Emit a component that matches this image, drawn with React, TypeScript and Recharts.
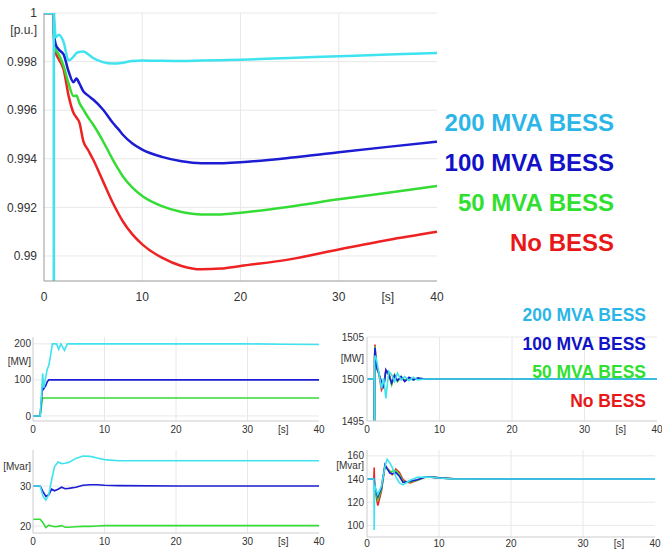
import { LineChart, Line, XAxis, YAxis, CartesianGrid } from "recharts";

const FONT = "'Liberation Sans', Arial, sans-serif";

const COLORS = {
  none: "#ee2222",
  b50: "#36dc36",
  b100: "#1c1cd2",
  b200: "#3fe3ef",
};

const LEGEND_COLORS = ["#2cb6e8", "#1212c8", "#2fe02f", "#e81818"];
const LEGEND_NAMES = ["200 MVA BESS", "100 MVA BESS", "50 MVA BESS", "No BESS"];

// shared x axis ticks (time, s)
const X_TICKS = [0, 10, 20, 30, 35, 40];
const X_LABELS = ["0", "10", "20", "30", "[s]", "40"];
const GRID_X = [10, 20, 30];

// bus voltage [p.u.]
const T_VOLT = [0, 0.995, 1.0, 1.005, 1.2, 1.5, 2, 2.5, 3, 3.3, 3.6, 4, 4.5, 5, 6, 7, 7.5, 8, 9, 10, 12, 14, 16, 18, 20, 25, 30, 35, 40];
const VOLT_200 = [1, 1, 0.975, 0.9998, 0.999, 0.9991, 0.9988, 0.99805, 0.9982, 0.99835, 0.9984, 0.99842, 0.9983, 0.99815, 0.99798, 0.99792, 0.99792, 0.99795, 0.99802, 0.99805, 0.99803, 0.99802, 0.99804, 0.99806, 0.99808, 0.99815, 0.99822, 0.99829, 0.99835];
const VOLT_100 = [1, 1, 1, 0.9992, 0.9987, 0.9985, 0.99829, 0.9976, 0.99715, 0.9973, 0.9971, 0.99678, 0.9966, 0.99644, 0.99603, 0.99548, 0.99525, 0.995, 0.99463, 0.99438, 0.99408, 0.9939, 0.99382, 0.99382, 0.99386, 0.99404, 0.99427, 0.99449, 0.9947];
const VOLT_50 = [1, 1, 1, 0.9991, 0.9985, 0.9983, 0.99781, 0.9971, 0.99658, 0.9966, 0.9963, 0.99603, 0.9957, 0.99541, 0.99473, 0.99397, 0.99362, 0.99329, 0.99281, 0.99247, 0.99205, 0.99181, 0.99171, 0.99171, 0.99178, 0.99203, 0.99233, 0.9926, 0.99288];
const VOLT_NONE = [1, 1, 1, 0.999, 0.99836, 0.9981, 0.99767, 0.9966, 0.99589, 0.9957, 0.9955, 0.99473, 0.99435, 0.99397, 0.99308, 0.99219, 0.9918, 0.99144, 0.99089, 0.99048, 0.98993, 0.98959, 0.98945, 0.98948, 0.98959, 0.98986, 0.99027, 0.99066, 0.991];
const VOLT_TICKS = [0.99, 0.992, 0.994, 0.996, 0.998, 0.9993, 1];
const VOLT_LABELS = ["0.99", "0.992", "0.994", "0.996", "0.998", "[p.u.]", "1"];
const VOLT_GRID = [0.99, 0.992, 0.994, 0.996, 0.998, 1];

// BESS active power [MW]
const T_PBESS = [0, 1.0, 1.2, 1.35, 1.5, 1.8, 2.0, 2.2, 2.4, 2.7, 3.3, 3.6, 3.9, 4.4, 4.8, 10, 20, 30, 35, 40];
const PB_200 = [0, 0, 60, 118, 78, 110, 130, 140, 160, 200, 200, 185, 200, 182, 200, 200, 200, 200, 199, 198];
const PB_100 = [0, 0, 50, 90, 75, 85, 95, 100, 100, 100, 100, 100, 100, 100, 100, 100, 100, 100, 100, 100];
const PB_50 = [0, 0, 30, 50, 50, 50, 50, 50, 50, 50, 50, 50, 50, 50, 50, 50, 50, 50, 50, 50];
const PB_TICKS = [0, 100, 150, 200];
const PB_LABELS = ["0", "100", "[MW]", "200"];
const PB_GRID = [0, 100, 200];

// BESS reactive power [Mvar]
const T_QBESS = [0, 1.0, 1.4, 1.8, 2.2, 2.6, 3.0, 3.5, 4.0, 4.5, 5, 6, 7, 8, 9, 10, 12, 20, 40];
const QB_200 = [30, 30, 27.4, 26.5, 27.8, 31.5, 34.8, 36.0, 35.6, 35.7, 35.9, 36.9, 37.5, 37.4, 37.0, 36.6, 36.3, 36.3, 36.3];
const QB_100 = [30, 30, 28.6, 27.4, 27.8, 29.2, 28.8, 29.2, 29.7, 29.3, 29.4, 29.7, 30.2, 30.3, 30.3, 30.2, 30.1, 30, 30];
const QB_50 = [21.7, 21.7, 20.8, 19.6, 20.2, 20.0, 19.8, 19.9, 20.1, 19.7, 19.7, 19.8, 19.9, 19.9, 20.0, 20.1, 20.1, 20.1, 20.1];
const QB_TICKS = [20, 30, 35];
const QB_LABELS = ["20", "30", "[Mvar]"];
const QB_GRID = [20, 30];

// generator active power [MW]
const T_PGEN = [0, 0.99, 1.0, 1.05, 1.1, 1.3, 1.6, 2.0, 2.3, 2.6, 3.0, 3.4, 3.8, 4.2, 4.7, 5.2, 5.8, 6.4, 7.0, 8, 10, 20, 40];
const PG_200 = [1500, 1500, 1480, 1502, 1502.8, 1502.4, 1500.9, 1498.9, 1500.1, 1497.7, 1500.9, 1500.5, 1499.7, 1500.7, 1499.9, 1500.3, 1499.8, 1500.2, 1499.9, 1500, 1500, 1500, 1500];
const PG_100 = [1500, 1500, 1480, 1502.5, 1503.7, 1501.5, 1500.7, 1499.7, 1498.9, 1501.1, 1500.5, 1499.5, 1500.4, 1499.8, 1500.3, 1499.7, 1500.2, 1499.9, 1500.1, 1500, 1500, 1500, 1500];
const PG_50 = [1500, 1500, 1480, 1502.6, 1503.9, 1501.4, 1500.8, 1499.2, 1499.0, 1500.9, 1500.6, 1499.3, 1500.5, 1499.7, 1500.3, 1499.8, 1500.1, 1499.9, 1500.1, 1500, 1500, 1500, 1500];
const PG_NONE = [1500, 1500, 1480, 1502.8, 1504.1, 1501.3, 1500.8, 1498.7, 1499.3, 1501.0, 1500.8, 1499.4, 1500.5, 1499.8, 1500.2, 1499.8, 1500.1, 1500, 1500, 1500, 1500, 1500, 1500];
const PG_TICKS = [1495, 1500, 1502.5, 1505];
const PG_LABELS = ["1495", "1500", "[MW]", "1505"];
const PG_GRID = [1500, 1505];

// generator reactive power [Mvar]
const T_QGEN = [0, 0.95, 1.0, 1.05, 1.2, 1.5, 2.0, 2.5, 2.8, 3.2, 3.5, 3.8, 4.0, 4.5, 5, 5.5, 6, 7, 8, 9, 10, 12, 20, 40];
const QG_NONE = [140, 140, 150, 135, 128, 117, 129.4, 151, 149, 146.6, 143.7, 146, 148.6, 145.7, 139.4, 137.5, 136.6, 138.9, 141.5, 141.6, 141, 140.2, 140, 140];
const QG_50 = [140, 140, 140, 135, 129.5, 122, 131, 151.5, 149, 146, 146.6, 147, 147.4, 144, 138, 137.5, 137.5, 139, 141.5, 141.6, 141, 140.2, 140, 140];
const QG_100 = [140, 140, 140, 135, 130.9, 125, 132.3, 152.3, 149, 145, 144.6, 145, 145.7, 142.3, 137, 137.5, 138, 139.4, 141.5, 141.6, 141, 140.2, 140, 140];
const QG_200 = [140, 140, 96, 135, 132, 126.6, 133.7, 150.9, 157, 153.7, 150, 145, 142, 136.6, 134.9, 137, 138.9, 141.4, 141.7, 141.5, 140.9, 140, 140, 140];
const QG_TICKS = [100, 120, 140, 151.5, 160];
const QG_LABELS = ["100", "120", "140", "[Mvar]", "160"];
const QG_GRID = [100, 120, 140, 160];

type Row = Record<string, number>;

function buildRows(t: number[], series: Record<string, number[]>): Row[] {
  return t.map((time, i) => {
    const row: Row = { t: time };
    Object.keys(series).forEach((k) => {
      row[k] = series[k][i];
    });
    return row;
  });
}

const labelFor = (ticks: number[], labels: string[]) => (v: number) => {
  const i = ticks.findIndex((x) => Math.abs(x - v) < 1e-9);
  return i >= 0 ? labels[i] : String(v);
};

interface PanelProps {
  data: Row[];
  keys: (keyof typeof COLORS)[];
  left: number;
  top: number;
  width: number;
  height: number;
  marginTop: number;
  marginRight: number;
  yWidth: number;
  xHeight: number;
  yDomain: [number, number];
  yTicks: number[];
  yLabels: string[];
  gridY: number[];
  fontSize: number;
  strokeWidth: number;
  axisColor: string;
  yTickGap: number;
  xTickGap: number;
  curve: "linear" | "monotone";
}

function Panel(p: PanelProps) {
  return (
    <div style={{ position: "absolute", left: p.left, top: p.top }}>
      <LineChart
        width={p.width}
        height={p.height}
        data={p.data}
        margin={{ top: p.marginTop, right: p.marginRight, left: 0, bottom: 0 }}
      >
        <CartesianGrid
          stroke="#e8e8e8"
          strokeWidth={1}
          verticalValues={GRID_X}
          horizontalValues={p.gridY}
        />
        <XAxis
          dataKey="t"
          type="number"
          domain={[0, 40]}
          ticks={X_TICKS}
          tickFormatter={labelFor(X_TICKS, X_LABELS)}
          height={p.xHeight}
          stroke={p.axisColor}
          tickLine={false}
          tickSize={2}
          tickMargin={p.xTickGap}
          tick={{ fill: "#333", fontSize: p.fontSize, fontFamily: FONT }}
          interval={0}
        />
        <YAxis
          type="number"
          domain={p.yDomain}
          allowDataOverflow
          ticks={p.yTicks}
          tickFormatter={labelFor(p.yTicks, p.yLabels)}
          width={p.yWidth}
          stroke={p.axisColor}
          tickLine={false}
          tickSize={0}
          tickMargin={p.yTickGap}
          tick={{ fill: "#333", fontSize: p.fontSize, fontFamily: FONT }}
          interval={0}
        />
        {p.keys.map((k) => (
          <Line
            key={k}
            dataKey={k}
            type={p.curve}
            stroke={COLORS[k]}
            strokeWidth={p.strokeWidth}
            dot={false}
            activeDot={false}
            isAnimationActive={false}
          />
        ))}
      </LineChart>
    </div>
  );
}

function Legend({ right, top, fontSize, lineHeight }: { right: number; top: number; fontSize: number; lineHeight: number }) {
  return (
    <div
      style={{
        position: "absolute",
        right,
        top,
        textAlign: "right",
        fontFamily: FONT,
        fontWeight: "bold",
        fontSize,
        lineHeight: `${lineHeight}px`,
        whiteSpace: "nowrap",
      }}
    >
      {LEGEND_NAMES.map((name, i) => (
        <div key={name} style={{ color: LEGEND_COLORS[i] }}>
          {name}
        </div>
      ))}
    </div>
  );
}

const ORDER: (keyof typeof COLORS)[] = ["none", "b50", "b100", "b200"];

export default function App() {
  const volt = buildRows(T_VOLT, { none: VOLT_NONE, b50: VOLT_50, b100: VOLT_100, b200: VOLT_200 });
  const pBess = buildRows(T_PBESS, { b50: PB_50, b100: PB_100, b200: PB_200 });
  const qBess = buildRows(T_QBESS, { b50: QB_50, b100: QB_100, b200: QB_200 });
  const pGen = buildRows(T_PGEN, { none: PG_NONE, b50: PG_50, b100: PG_100, b200: PG_200 });
  const qGen = buildRows(T_QGEN, { none: QG_NONE, b50: QG_50, b100: QG_100, b200: QG_200 });

  return (
    <div
      style={{
        position: "absolute",
        left: 0,
        top: 0,
        width: 662,
        height: 553,
        background: "#fff",
        overflow: "hidden",
      }}
    >
      <Panel
        data={volt}
        keys={ORDER}
        left={0}
        top={0}
        width={450}
        height={305}
        marginTop={13}
        marginRight={13}
        yWidth={44}
        xHeight={24}
        yDomain={[0.98897, 1]}
        yTicks={VOLT_TICKS}
        yLabels={VOLT_LABELS}
        gridY={VOLT_GRID}
        fontSize={12}
        strokeWidth={2.5}
        axisColor="#999"
        yTickGap={7}
        xTickGap={9}
        curve="monotone"
      />
      <Legend right={48} top={103} fontSize={24} lineHeight={40} />

      <Panel
        data={pBess}
        keys={["b50", "b100", "b200"]}
        left={0}
        top={327}
        width={330}
        height={114}
        marginTop={10}
        marginRight={11}
        yWidth={33}
        xHeight={20}
        yDomain={[-14, 219]}
        yTicks={PB_TICKS}
        yLabels={PB_LABELS}
        gridY={PB_GRID}
        fontSize={10}
        strokeWidth={1.6}
        axisColor="#ccc"
        yTickGap={2}
        xTickGap={3}
        curve="linear"
      />
      <Panel
        data={qBess}
        keys={["b50", "b100", "b200"]}
        left={0}
        top={440}
        width={330}
        height={113}
        marginTop={10}
        marginRight={11}
        yWidth={33}
        xHeight={20}
        yDomain={[18.25, 39]}
        yTicks={QB_TICKS}
        yLabels={QB_LABELS}
        gridY={QB_GRID}
        fontSize={10}
        strokeWidth={1.6}
        axisColor="#ccc"
        yTickGap={2}
        xTickGap={3}
        curve="linear"
      />
      <Panel
        data={pGen}
        keys={ORDER}
        left={330}
        top={327}
        width={332}
        height={114}
        marginTop={10}
        marginRight={5}
        yWidth={37}
        xHeight={20}
        yDomain={[1495, 1505]}
        yTicks={PG_TICKS}
        yLabels={PG_LABELS}
        gridY={PG_GRID}
        fontSize={10}
        strokeWidth={1.6}
        axisColor="#ccc"
        yTickGap={3}
        xTickGap={3}
        curve="linear"
      />
      <Panel
        data={qGen}
        keys={ORDER}
        left={330}
        top={440}
        width={332}
        height={113}
        marginTop={10}
        marginRight={7}
        yWidth={37}
        xHeight={16}
        yDomain={[90, 165]}
        yTicks={QG_TICKS}
        yLabels={QG_LABELS}
        gridY={QG_GRID}
        fontSize={10}
        strokeWidth={1.6}
        axisColor="#ccc"
        yTickGap={3}
        xTickGap={1}
        curve="linear"
      />
      <Legend right={16} top={301} fontSize={17.5} lineHeight={28.5} />
    </div>
  );
}
